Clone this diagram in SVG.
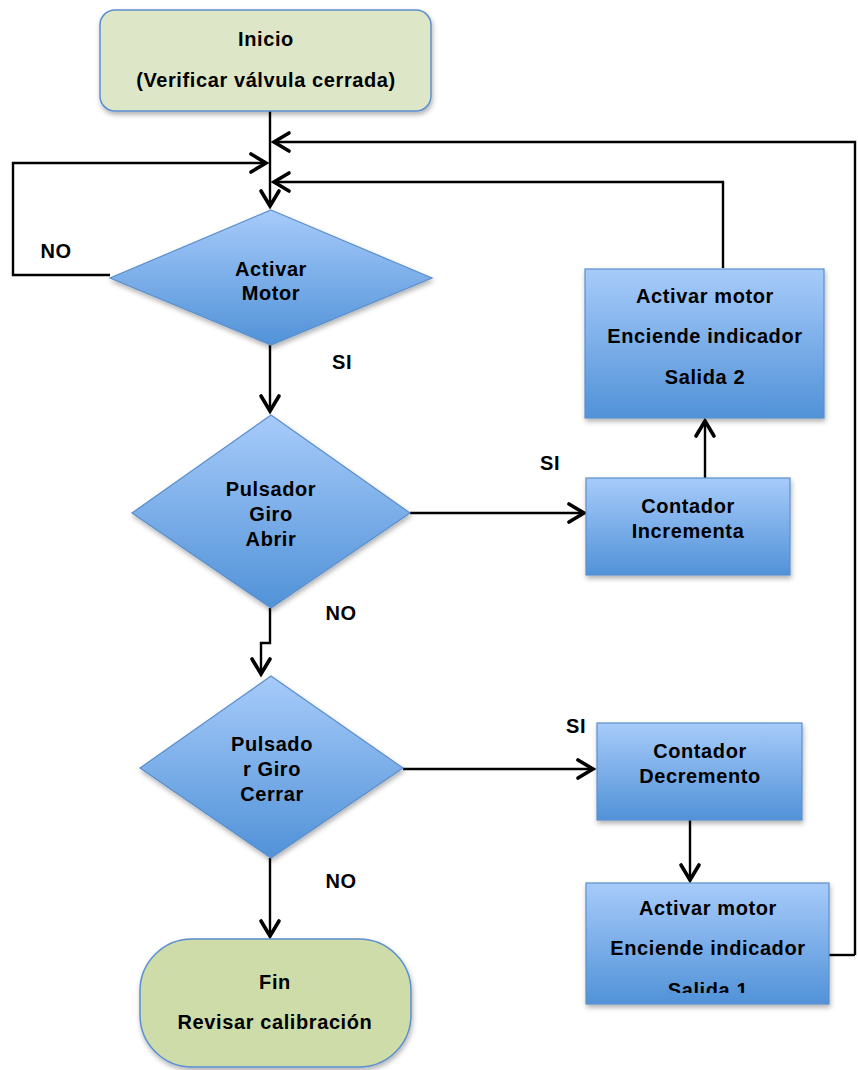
<svg xmlns="http://www.w3.org/2000/svg" width="858" height="1070" viewBox="0 0 858 1070">
<defs>
<linearGradient id="blue" x1="0" y1="0" x2="0" y2="1">
<stop offset="0" stop-color="#a7cbfa"/>
<stop offset="1" stop-color="#5192d8"/>
</linearGradient>
<filter id="sh" x="-10%" y="-10%" width="125%" height="130%">
<feDropShadow dx="1" dy="3" stdDeviation="2.5" flood-color="#000" flood-opacity="0.3"/>
</filter>
<marker id="ar" markerUnits="userSpaceOnUse" viewBox="-20 -12 24 24" markerWidth="24" markerHeight="24" refX="0" refY="0" orient="auto" overflow="visible">
<path d="M-15,-9 L0,0 L-15,9" fill="none" stroke="#000" stroke-width="3.6" stroke-linecap="round" stroke-linejoin="miter"/>
</marker>
<clipPath id="clipS1"><rect x="586" y="883" width="243" height="110"/></clipPath>
<style>
.t{font-family:"Liberation Sans",Arial,sans-serif;font-weight:bold;font-size:20px;letter-spacing:0.6px;fill:#000;text-anchor:middle}
.bx{fill:url(#blue);stroke:#5b8fcc;stroke-width:1.2;filter:url(#sh)}
.gr{stroke:#5b8fd0;stroke-width:1.5;filter:url(#sh)}
.ln{fill:none;stroke:#000;stroke-width:2.4}
.ar{marker-end:url(#ar)}
</style>
</defs>

<g id="connectors">
<polyline class="ln ar" points="270,111 270,206"/>
<polyline class="ln ar" points="110,275 13,275 13,163 266,163"/>
<polyline class="ln ar" points="855,955 855,142 274,142"/>
<polyline class="ln" points="829,955 855,955"/>
<polyline class="ln ar" points="723,268 723,182 274,182"/>
<polyline class="ln ar" points="270,345 270,411"/>
<polyline class="ln ar" points="410,513 584,513"/>
<polyline class="ln ar" points="705,478 705,421"/>
<polyline class="ln ar" points="270,608 270,643 261,643 261,674"/>
<polyline class="ln ar" points="403,769 593,769"/>
<polyline class="ln ar" points="690,820 690,880"/>
<polyline class="ln ar" points="270,858 270,936"/>
</g>

<g id="labels">
<text class="t" x="56" y="258">NO</text>
<text class="t" x="342" y="369">SI</text>
<text class="t" x="550" y="470">SI</text>
<text class="t" x="341" y="620">NO</text>
<text class="t" x="576" y="733">SI</text>
<text class="t" x="341" y="888">NO</text>
</g>

<g id="inicio">
<rect class="gr" x="100" y="10" width="331" height="101" rx="15" fill="#dde7c7"/>
<text class="t" x="266" y="46">Inicio</text>
<text class="t" x="266" y="87">(Verificar válvula cerrada)</text>
</g>

<g id="activar-motor-dec">
<polygon class="bx" points="271,210 432,278 271,345 110,278"/>
<text class="t" x="271" y="276">Activar</text>
<text class="t" x="271" y="300">Motor</text>
</g>

<g id="pulsador-abrir">
<polygon class="bx" points="271,415 410,513 271,608 132,513"/>
<text class="t" x="271" y="496">Pulsador</text>
<text class="t" x="271" y="521">Giro</text>
<text class="t" x="271" y="546">Abrir</text>
</g>

<g id="pulsador-cerrar">
<polygon class="bx" points="271,676 403,768 271,858 140,768"/>
<text class="t" x="272" y="751">Pulsado</text>
<text class="t" x="272" y="776">r Giro</text>
<text class="t" x="272" y="801">Cerrar</text>
</g>

<g id="salida2">
<rect class="bx" x="585" y="269" width="239" height="149"/>
<text class="t" x="705" y="303">Activar motor</text>
<text class="t" x="705" y="343">Enciende indicador</text>
<text class="t" x="705" y="384">Salida 2</text>
</g>

<g id="contador-inc">
<rect class="bx" x="586" y="478" width="204" height="97"/>
<text class="t" x="688" y="513">Contador</text>
<text class="t" x="688" y="538">Incrementa</text>
</g>

<g id="contador-dec">
<rect class="bx" x="597" y="723" width="205" height="97"/>
<text class="t" x="700" y="758">Contador</text>
<text class="t" x="700" y="783">Decremento</text>
</g>

<g id="salida1">
<rect class="bx" x="586" y="883" width="243" height="121"/>
<text class="t" x="708" y="915">Activar motor</text>
<text class="t" x="708" y="955">Enciende indicador</text>
<text class="t" x="708" y="997" clip-path="url(#clipS1)">Salida 1</text>
</g>

<g id="fin">
<rect class="gr" x="140" y="939" width="271" height="128" rx="52" fill="#cddca9"/>
<text class="t" x="275" y="989">Fin</text>
<text class="t" x="275" y="1029">Revisar calibración</text>
</g>
</svg>
